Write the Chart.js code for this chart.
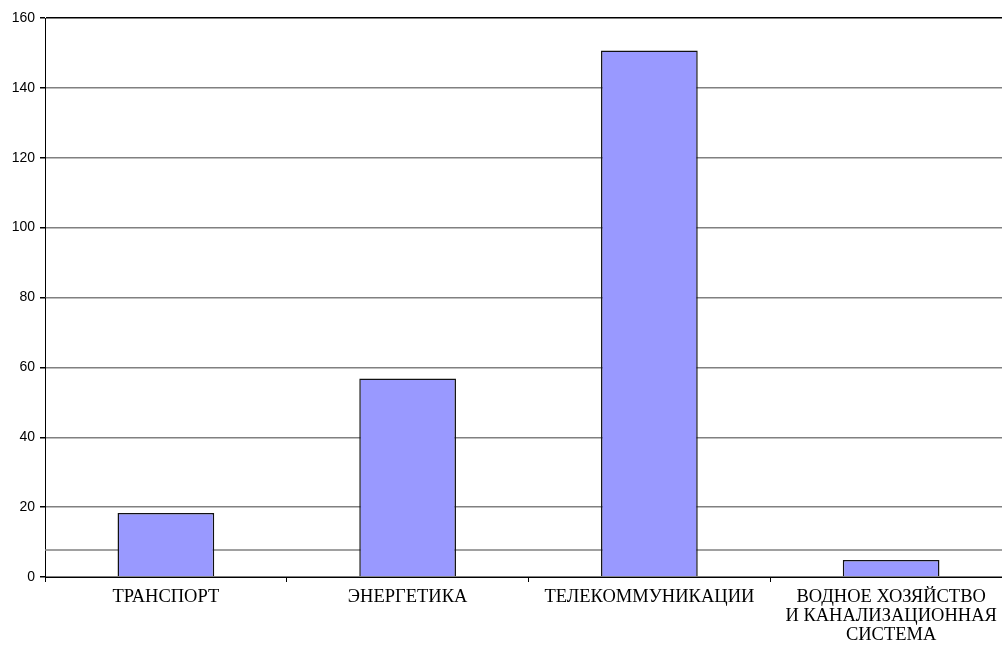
<!DOCTYPE html>
<html>
<head>
<meta charset="utf-8">
<script src="https://cdn.jsdelivr.net/npm/chart.js@4"></script>
<style>
  html, body { margin: 0; padding: 0; background: #fff; overflow: hidden; }
  #wrap { width: 1012px; height: 646px; }
</style>
</head>
<body>
<div id="wrap"><canvas id="chart"></canvas></div>
<script>
// данные диаграммы
const categories = [
  "ТРАНСПОРТ",
  "ЭНЕРГЕТИКА",
  "ТЕЛЕКОММУНИКАЦИИ",
  ["ВОДНОЕ ХОЗЯЙСТВО", "И КАНАЛИЗАЦИОННАЯ", "СИСТЕМА"],
];
const values = [18.3, 56.8, 150.7, 4.9];
const yTicks = [0, 20, 40, 60, 80, 100, 120, 140, 160];
const refLineValue = 7.6;

// отдельная горизонтальная линия за столбцами
const refLinePlugin = {
  id: "refLine",
  beforeDatasetsDraw(chart) {
    const { ctx, chartArea, scales } = chart;
    const y = Math.round(scales.y.getPixelForValue(refLineValue));
    ctx.save();
    ctx.strokeStyle = "#808080";
    ctx.lineWidth = 1.5;
    ctx.beginPath();
    ctx.moveTo(chartArea.left, y);
    ctx.lineTo(chartArea.right, y);
    ctx.stroke();
    ctx.restore();
  },
};

const config = {
  type: "bar",
  data: {
    labels: categories,
    datasets: [
      {
        data: values,
        backgroundColor: "#9999ff",
        borderColor: "#111111",
        borderWidth: 1.5,
        categoryPercentage: 1,
        barPercentage: 0.4,
      },
    ],
  },
  options: {
    responsive: true,
    maintainAspectRatio: false,
    animation: false,
    layout: { padding: { top: 18, left: 0, right: 0, bottom: 0 } },
    plugins: {
      legend: { display: false },
      tooltip: { enabled: false },
    },
    scales: {
      x: {
        offset: true,
        grid: {
          offset: true,
          drawOnChartArea: false,
          drawTicks: true,
          tickLength: 5,
          color: "#000",
        },
        border: { color: "#000", width: 1 },
        ticks: {
          color: "#000",
          maxRotation: 0,
          autoSkip: false,
          padding: 5,
          font: {
            family: "'Liberation Serif', 'Times New Roman', serif",
            size: 18.5,
            lineHeight: 1.05,
          },
        },
        afterFit(scale) {
          scale.height = 69;
        },
      },
      y: {
        min: 0,
        max: 160,
        afterBuildTicks(scale) {
          scale.ticks = yTicks.map((v) => ({ value: v }));
        },
        grid: {
          color: (c) => (c.tick && c.tick.value === 160 ? "#000" : "#808080"),
          tickColor: "#000",
          tickLength: 5,
          lineWidth: 1.5,
        },
        border: { color: "#000", width: 1 },
        ticks: {
          color: "#000",
          padding: 5,
          font: { family: "'Liberation Sans', Arial, sans-serif", size: 14 },
        },
        afterFit(scale) {
          scale.width = 45;
        },
      },
    },
  },
  plugins: [refLinePlugin],
};

document.addEventListener("DOMContentLoaded", () => {
  new Chart(document.getElementById("chart"), config);
});
</script>
</body>
</html>
